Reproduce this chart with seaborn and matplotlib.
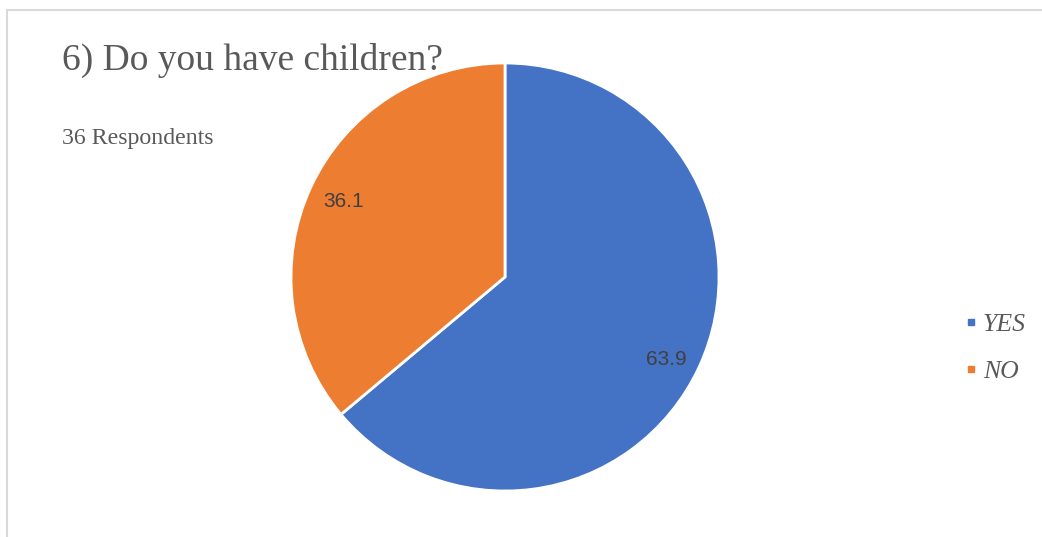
import numpy as np
import pandas as pd
import matplotlib.pyplot as plt
import seaborn as sns
from matplotlib.lines import Line2D

sns.set_theme(style='white')
plt.rcParams['font.family'] = ['Liberation Serif', 'DejaVu Serif']

answers = ['YES', 'NO']
percent = [63.9, 36.1]
colors = ['#4472C4', '#ED7D31']

fig = plt.figure(figsize=(10.42, 5.37), dpi=100)
fig.patch.set_facecolor('white')

# pie box: 291..719 px wide, 63..491 px tall
ax = fig.add_axes([291 / 1042, 46 / 537, 428 / 1042, 428 / 537])
wedges, texts, autotexts = ax.pie(
    percent, colors=colors, startangle=90, counterclock=False,
    autopct='%.1f', pctdistance=0.83,
    wedgeprops=dict(edgecolor='white', linewidth=2),
    textprops=dict(family='Liberation Sans', fontsize=15, color='#404040'))
# excel puts the big label a little lower
x, y = autotexts[0].get_position()
autotexts[0].set_position((x, y - 0.035))
ax.set_xlim(-1, 1)
ax.set_ylim(-1, 1)
ax.set_aspect('equal')
ax.axis('off')

fig.text(62 / 1042, 1 - 70 / 537, '6) Do you have children?', fontsize=27,
         color='#595959', va='baseline')
fig.text(62 / 1042, 1 - 144 / 537, '36 Respondents', fontsize=17.2,
         color='#595959', va='baseline')

handles = [Line2D([], [], marker='s', linestyle='none', markersize=5,
                  markerfacecolor=c, markeredgecolor=c) for c in colors]
leg = fig.legend(handles, answers, loc='center left',
                 bbox_to_anchor=(965 / 1042, 1 - 348 / 537), frameon=False,
                 borderaxespad=0, borderpad=0, handlelength=0.5,
                 handletextpad=0.2, labelspacing=0.95,
                 prop=dict(family='Liberation Serif', style='italic', size=18.5))
for t in leg.get_texts():
    t.set_color('#595959')

# light chart border on top and left
fig.add_artist(Line2D([7 / 1042, 1], [1 - 10 / 537, 1 - 10 / 537],
                      color='#D9D9D9', linewidth=1.5, transform=fig.transFigure))
fig.add_artist(Line2D([7 / 1042, 7 / 1042], [0, 1 - 10 / 537],
                      color='#D9D9D9', linewidth=1.5, transform=fig.transFigure))

fig.savefig('out.png', dpi=100)
